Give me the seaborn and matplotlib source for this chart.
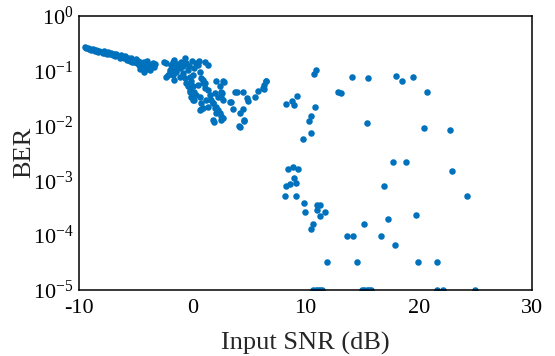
import numpy as np
import pandas as pd
import matplotlib
matplotlib.use("Agg")
import matplotlib.pyplot as plt
import seaborn as sns

# low SNR band
snr_band = [-9.5, -9.4, -9.2, -9.1, -9.0, -8.9, -8.8, -8.6, -8.5, -8.4, -8.3, -8.2,
            -8.0, -7.9, -7.8, -7.7, -7.5, -7.4, -7.3, -7.2, -7.0, -6.9, -6.8, -6.7,
            -6.5, -6.4, -6.3, -6.2, -6.0, -5.9, -5.8, -5.7, -5.6, -5.5, -5.4, -5.3,
            -5.2, -5.1, -5.0, -4.9, -4.8, -4.7, -4.6, -4.6, -4.5, -4.4, -4.3, -4.3,
            -4.2, -4.1, -4.0, -4.0, -3.9, -3.8, -3.7, -3.6, -3.5, -3.4, -3.3]
ber_band = [0.27, 0.255, 0.26, 0.245, 0.25, 0.235, 0.245, 0.23, 0.24, 0.225, 0.215, 0.23,
            0.22, 0.205, 0.225, 0.21, 0.2, 0.215, 0.195, 0.205, 0.19, 0.2, 0.18, 0.195,
            0.185, 0.17, 0.19, 0.175, 0.165, 0.18, 0.155, 0.17, 0.16, 0.15, 0.165, 0.145,
            0.155, 0.14, 0.16, 0.135, 0.15, 0.125, 0.145, 0.105, 0.13, 0.115, 0.14, 0.095,
            0.12, 0.105, 0.15, 0.13, 0.11, 0.125, 0.1, 0.12, 0.135, 0.115, 0.13]

# cluster around 0 dB
snr_cluster = [-2.45, -2.3, -2.3, -2.16, -2.0, -2.0, -1.86, -1.8, -1.72, -1.72, -1.57, -1.57,
               -1.57, -1.42, -1.4, -1.3, -1.12, -1.12, -1.0, -0.97, -0.83, -0.8, -0.68, -0.68,
               -0.53, -0.53, -0.39, -0.39, -0.3, -0.24, -0.24, -0.24, -0.09, -0.09, 0.0, 0.05,
               0.05, 0.05, 0.2, 0.2, 0.2, 0.35, 0.35, 0.5, 0.5, 0.6, 0.65, 0.65, 0.65,
               0.8, 0.8, 0.8, 0.94, 0.94, 0.94, 1.09, 1.09, 1.1, 1.24, 1.38, 1.38, 1.38,
               1.53, 1.68, 1.82, 1.82, 1.82, 1.88, 1.97, 1.97, 2.06, 2.12, 2.12, 2.27, 2.27,
               2.42, 2.42, 2.57, 2.57, 2.57, 2.57, 2.65, 2.7, 2.7, 2.7, 2.77, 3.3, 3.45,
               3.6, 3.74, 3.95, 4.12, 4.19, 4.19, 4.48, 4.48, 4.57, 4.6, 4.87, 4.92,
               5.51, 5.8, 6.25, 6.34, 6.55]
ber_cluster = [0.145, 0.139, 0.077, 0.083, 0.102, 0.095, 0.126, 0.11, 0.145, 0.083, 0.117, 0.155,
               0.067, 0.095, 0.1, 0.13, 0.11, 0.077, 0.14, 0.126, 0.089, 0.12, 0.166, 0.072,
               0.135, 0.059, 0.102, 0.051, 0.12, 0.077, 0.041, 0.044, 0.063, 0.033, 0.15, 0.083,
               0.029, 0.051, 0.11, 0.041, 0.029, 0.135, 0.036, 0.126, 0.055, 0.15, 0.095, 0.033,
               0.019, 0.072, 0.025, 0.02, 0.059, 0.0204, 0.067, 0.048, 0.059, 0.14, 0.029,
               0.044, 0.022, 0.126, 0.036, 0.029, 0.025, 0.0126, 0.025, 0.0117, 0.0204, 0.039,
               0.022, 0.063, 0.0167, 0.019, 0.033, 0.051, 0.017, 0.041, 0.0145, 0.0126, 0.033,
               0.039, 0.063, 0.0135, 0.029, 0.062, 0.027, 0.027, 0.02, 0.041, 0.04, 0.0098,
               0.017, 0.0095, 0.041, 0.02, 0.0122, 0.0126, 0.032, 0.028, 0.033, 0.043, 0.047,
               0.055, 0.065]

# scattered points at higher SNR
snr_sparse = [6.31, 6.51, 8.32, 8.85, 8.96, 9.29, 10.73, 10.91, 10.82, 10.53, 10.32, 10.53,
              9.82, 12.83, 13.12, 14.12, 15.56, 15.45, 17.96, 18.55, 19.52, 20.76, 20.47,
              22.77, 17.75, 18.88, 22.96, 16.96, 24.26, 19.79, 15.13, 17.26, 13.68, 14.16,
              16.69, 17.93, 14.54, 19.91, 21.59, 11.91, 8.43, 8.9, 9.38, 8.99, 8.32, 8.61,
              9.14, 8.23, 9.2, 9.85, 10.0, 11.06, 11.29, 11.0, 11.24, 11.73, 10.67, 10.5]
ber_sparse = [0.046, 0.065, 0.0244, 0.028, 0.0233, 0.0344, 0.0863, 0.102, 0.022, 0.0149,
              0.0119, 0.0072, 0.0057, 0.041, 0.039, 0.076, 0.0716, 0.011, 0.0794, 0.065,
              0.0755, 0.0403, 0.0091, 0.0082, 0.00212, 0.00212, 0.00146, 0.00077, 0.000516,
              0.000228, 0.000162, 0.000194, 9.8e-5, 9.8e-5, 9.8e-5, 6.6e-5, 3.3e-5, 3.3e-5,
              3.3e-5, 3.26e-5, 0.00162, 0.00174, 0.00162, 0.0011, 0.00077, 0.00086, 0.00089,
              0.000516, 0.000516, 0.000385, 0.00026, 0.000354, 0.000354, 0.000291, 0.000226,
              0.00026, 0.000162, 0.00013]

# points sitting on the BER floor
snr_floor = [10.7, 10.9, 11.1, 11.3, 11.45, 15.0, 15.2, 15.4, 15.6, 15.8, 21.6, 22.1, 25.0]
ber_floor = [1e-5] * len(snr_floor)

df = pd.DataFrame({
    "snr": snr_band + snr_cluster + snr_sparse + snr_floor,
    "ber": ber_band + ber_cluster + ber_sparse + ber_floor,
})

sns.set_style("white")
plt.rcParams['font.family'] = ['Liberation Serif', 'DejaVu Serif']
plt.rcParams['mathtext.fontset'] = 'custom'
plt.rcParams['mathtext.rm'] = 'Liberation Serif'
plt.rcParams['axes.unicode_minus'] = False

fig = plt.figure(figsize=(5.55, 3.56), dpi=100)
ax = fig.add_axes([0.1423, 0.1854, 0.8162, 0.771])
sns.scatterplot(data=df, x="snr", y="ber", color="#0072BD", s=22,
                linewidth=0, edgecolor=None, ax=ax)
ax.set_yscale("log")
ax.set_xlim(-10, 30)
ax.set_ylim(1e-5, 1)
ax.set_xticks([-10, 0, 10, 20, 30])
ax.set_yticks([1e-5, 1e-4, 1e-3, 1e-2, 1e-1, 1])
ax.minorticks_off()
ax.tick_params(direction="in", length=3.6, width=1, labelsize=16, colors="black")
ax.tick_params(axis="x", pad=6.5)
ax.tick_params(axis="y", pad=4)
for sp in ax.spines.values():
    sp.set_linewidth(1.1)
    sp.set_color("black")
ax.set_xlabel("Input SNR (dB)", fontsize=19, labelpad=10)
ax.set_ylabel("BER", fontsize=19, labelpad=-2)

fig.savefig("out.png", dpi=100)
